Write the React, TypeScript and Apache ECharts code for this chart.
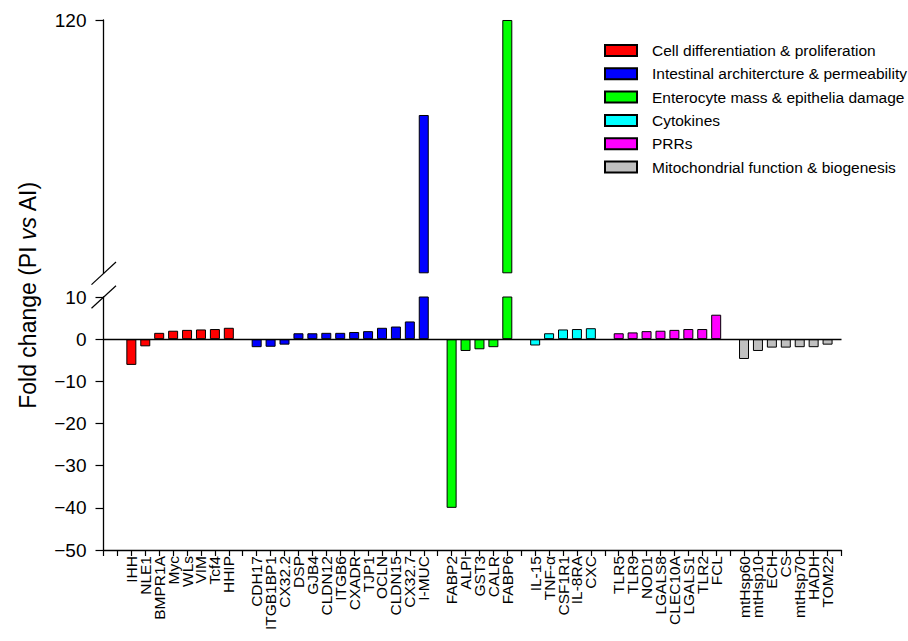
import React, { useEffect, useRef } from "react";
import * as echarts from "echarts";

// ---- data ----
const groupNames = [
  "Cell differentiation & proliferation",
  "Intestinal architercture & permeability",
  "Enterocyte mass & epithelia damage",
  "Cytokines",
  "PRRs",
  "Mitochondrial function & biogenesis",
];
const groupColors = ["#FF0000", "#0000FF", "#00FF00", "#00FFFF", "#FF00FF", "#C0C0C0"];

const cellGenes = ["IHH", "NLE1", "BMPR1A", "Myc", "WLs", "VIM", "Tcf4", "HHIP"];
const cellValues = [-6.1, -1.7, 1.5, 2.0, 2.2, 2.3, 2.4, 2.7];

const archGenes = ["CDH17", "ITGB1BP1", "CX32.2", "DSP", "GJB4", "CLDN12", "ITGB6", "CXADR", "TJP1", "OCLN", "CLDN15", "CX32.7", "I-MUC"];
const archValues = [-1.9, -1.8, -1.3, 1.4, 1.4, 1.5, 1.5, 1.7, 1.9, 2.7, 3.0, 4.2, 75];

const enteroGenes = ["FABP2", "ALPI", "GST3", "CALR", "FABP6"];
const enteroValues = [-40, -2.8, -2.4, -1.9, 120];

const cytoGenes = ["IL-15", "TNF-α", "CSF1R1", "IL-8RA", "CXC"];
const cytoValues = [-1.5, 1.4, 2.3, 2.4, 2.6];

const prrGenes = ["TLR5", "TLR9", "NOD1", "LGALS8", "CLEC10A", "LGALS1", "TLR2", "FCL"];
const prrValues = [1.4, 1.6, 1.9, 2.0, 2.2, 2.4, 2.4, 5.8];

const mitoGenes = ["mtHsp60", "mtHsp10", "ECH", "CS", "mtHsp70", "HADH", "TOM22"];
const mitoValues = [-4.7, -2.8, -2.0, -2.0, -1.9, -1.9, -1.3];

const lowerTicks = { min: -50, max: 10, interval: 10 };
const upperTicks = { min: 0, max: 120, interval: 120, shown: [120] };
const breakValue = 10;

// ---- layout ----
const FONT = '"Liberation Sans", Arial, Helvetica, sans-serif';
const GRID_LEFT = 103.5;
const GRID_WIDTH = 738;
const LOWER_TOP = 297;
const LOWER_H = 253;
const UPPER_TOP = 20;
const UPPER_H = 253.3;

const fmtNum = (v: number) => (v < 0 ? "\u2212" + Math.abs(v) : String(v));

export default function App() {
  const ref = useRef<HTMLDivElement>(null);

  useEffect(() => {
    if (!ref.current) return;
    const chart = echarts.init(ref.current, null, { renderer: "svg" });

    const geneGroups = [cellGenes, archGenes, enteroGenes, cytoGenes, prrGenes, mitoGenes];
    const valueGroups = [cellValues, archValues, enteroValues, cytoValues, prrValues, mitoValues];

    // categories with one empty slot between groups, plus axis slots
    const categories: string[] = ["", ""];
    const groupIndex: number[][] = [];
    geneGroups.forEach((genes) => {
      const idx: number[] = [];
      genes.forEach((g) => {
        idx.push(categories.length);
        categories.push(g);
      });
      groupIndex.push(idx);
      categories.push("");
    });

    const lowerSeries: any[] = [];
    const upperSeries: any[] = [];
    groupNames.forEach((name, gi) => {
      const lower: any[] = categories.map(() => "-");
      const upper: any[] = categories.map(() => "-");
      groupIndex[gi].forEach((ci, k) => {
        const v = valueGroups[gi][k];
        lower[ci] = v;
        if (v > breakValue) upper[ci] = v;
      });
      const itemStyle = { color: groupColors[gi], borderColor: "#000", borderWidth: 1 };
      lowerSeries.push({
        name,
        type: "bar",
        xAxisIndex: 0,
        yAxisIndex: 0,
        data: lower,
        barWidth: 10,
        barGap: "-100%",
        itemStyle,
        clip: true,
        ...(gi === 0
          ? {
              markLine: {
                silent: true,
                symbol: ["none", "none"],
                data: [{ yAxis: 0 }],
                lineStyle: { color: "#000", width: 1.3, type: "solid" },
                label: { show: false },
              },
            }
          : {}),
      });
      upperSeries.push({
        name,
        type: "bar",
        xAxisIndex: 1,
        yAxisIndex: 1,
        data: upper,
        barWidth: 10,
        barGap: "-100%",
        itemStyle,
        clip: true,
      });
    });

    const axisLine = { show: true, onZero: false, lineStyle: { color: "#000", width: 1.3 } };

    const slash = (yc: number) => ({
      type: "line",
      shape: { x1: GRID_LEFT - 12, y1: yc + 11.3, x2: GRID_LEFT + 12.5, y2: yc - 11.3 },
      style: { stroke: "#000", lineWidth: 1.2 },
      z: 100,
    });

    chart.setOption({
      animation: false,
      textStyle: { fontFamily: FONT },
      grid: [
        { left: GRID_LEFT, width: GRID_WIDTH, top: LOWER_TOP, height: LOWER_H },
        { left: GRID_LEFT, width: GRID_WIDTH, top: UPPER_TOP, height: UPPER_H },
      ],
      xAxis: [
        {
          type: "category",
          gridIndex: 0,
          data: categories,
          boundaryGap: false,
          position: "bottom",
          axisLine,
          axisTick: { show: true, interval: 0, length: 6, lineStyle: { color: "#000", width: 1.2 } },
          axisLabel: { interval: 0, rotate: 90, fontSize: 15.5, margin: 6, color: "#000", fontFamily: FONT },
          splitLine: { show: false },
        },
        {
          type: "category",
          gridIndex: 1,
          data: categories,
          boundaryGap: false,
          show: false,
        },
      ],
      yAxis: [
        {
          type: "value",
          gridIndex: 0,
          min: lowerTicks.min,
          max: lowerTicks.max,
          interval: lowerTicks.interval,
          axisLine,
          axisTick: { show: true, length: 8, lineStyle: { color: "#000", width: 1.2 } },
          axisLabel: { fontSize: 19, margin: 17, align: "right", color: "#000", fontFamily: FONT, formatter: fmtNum },
          splitLine: { show: false },
        },
        {
          type: "value",
          gridIndex: 1,
          min: upperTicks.min,
          max: upperTicks.max,
          interval: upperTicks.interval,
          axisLine,
          axisTick: { show: true, length: 8, customValues: upperTicks.shown, lineStyle: { color: "#000", width: 1.2 } },
          axisLabel: {
            fontSize: 19,
            margin: 17,
            align: "right",
            color: "#000",
            fontFamily: FONT,
            formatter: (v: number) => (upperTicks.shown.includes(v) ? fmtNum(v) : ""),
          },
          splitLine: { show: false },
        },
      ],
      legend: {
        data: groupNames,
        orient: "vertical",
        left: 604,
        top: 42.5,
        padding: 0,
        itemWidth: 32,
        itemHeight: 11,
        itemGap: 7.3,
        icon: "rect",
        selectedMode: false,
        textStyle: { fontSize: 15.5, color: "#000", lineHeight: 16, padding: [0, 0, 0, 10], fontFamily: FONT },
      },
      graphic: [
        {
          type: "text",
          x: 28,
          y: 295,
          rotation: Math.PI / 2,
          style: {
            text: "Fold change (PI {i|vs} AI)",
            font: `23px ${FONT}`,
            fontSize: 23,
            fontFamily: FONT,
            fill: "#000",
            align: "center",
            verticalAlign: "middle",
            rich: { i: { fontStyle: "italic", fontSize: 23, fontFamily: FONT } },
          },
        },
        slash(UPPER_TOP + UPPER_H),
        slash(LOWER_TOP),
      ],
      series: [...lowerSeries, ...upperSeries],
    });

    return () => chart.dispose();
  }, []);

  return (
    <div
      ref={ref}
      style={{ position: "fixed", left: 0, top: 0, width: 908, height: 641, background: "#fff" }}
    />
  );
}
